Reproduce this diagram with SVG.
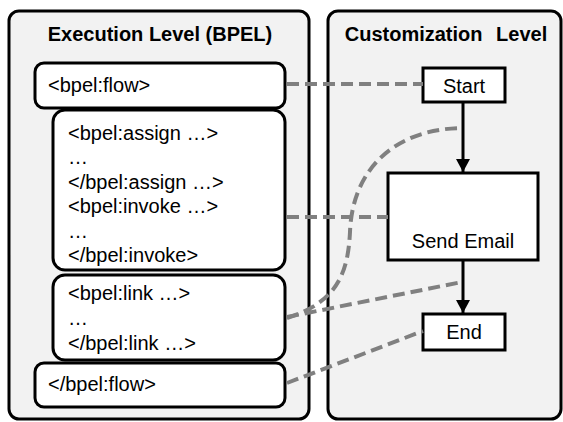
<svg xmlns="http://www.w3.org/2000/svg" width="563" height="422" viewBox="0 0 563 422">
<defs>
<style>
.panel{fill:#f2f2f2;stroke:#000;stroke-width:3}
.box{fill:#fff;stroke:#000;stroke-width:3}
.title{font-family:"Liberation Sans",Arial,sans-serif;font-weight:bold;font-size:20px;fill:#000}
.t{font-family:"Liberation Sans",Arial,sans-serif;font-size:20px;fill:#000}
.dash{fill:none;stroke:#808080;stroke-width:4;stroke-dasharray:12 6}
.flow{fill:none;stroke:#000;stroke-width:3}
</style>
<marker id="ah" markerWidth="14" markerHeight="14" refX="13" refY="7" orient="auto" markerUnits="userSpaceOnUse">
<path d="M0,0 L13,7 L0,14 Z" fill="#000"/>
</marker>
</defs>
<rect width="563" height="422" fill="#fff"/>
<g id="panel-execution">
<rect class="panel" x="9" y="11" width="300" height="408" rx="10"/>
<text class="title" x="160" y="41" text-anchor="middle">Execution Level (BPEL)</text>
</g>
<g id="panel-customization">
<rect class="panel" x="328" y="11" width="233" height="408" rx="10"/>
<text class="title" x="446" y="41" text-anchor="middle" word-spacing="8">Customization Level</text>
</g>
<g id="bpel-flow-open">
<rect class="box" x="35" y="63" width="250" height="45" rx="9"/>
<text class="t" x="48" y="92">&lt;bpel:flow&gt;</text>
</g>
<g id="bpel-assign-invoke">
<rect class="box" x="53" y="110" width="232" height="160" rx="12"/>
<text class="t" x="68" y="140">&lt;bpel:assign …&gt;</text>
<text class="t" x="68" y="164">…</text>
<text class="t" x="68" y="189">&lt;/bpel:assign …&gt;</text>
<text class="t" x="68" y="213">&lt;bpel:invoke …&gt;</text>
<text class="t" x="68" y="238">…</text>
<text class="t" x="68" y="262">&lt;/bpel:invoke&gt;</text>
</g>
<g id="bpel-link">
<rect class="box" x="53" y="275" width="232" height="85" rx="12"/>
<text class="t" x="68" y="300">&lt;bpel:link …&gt;</text>
<text class="t" x="68" y="325">…</text>
<text class="t" x="68" y="350">&lt;/bpel:link …&gt;</text>
</g>
<g id="bpel-flow-close">
<rect class="box" x="35" y="363" width="250" height="44" rx="9"/>
<text class="t" x="48" y="391">&lt;/bpel:flow&gt;</text>
</g>
<g id="start">
<rect class="box" x="423" y="68" width="82" height="34"/>
<text class="t" x="464" y="93" text-anchor="middle">Start</text>
</g>
<g id="send-email">
<rect class="box" x="388" y="173" width="150" height="87"/>
<text class="t" x="463" y="248" text-anchor="middle">Send Email</text>
</g>
<g id="end">
<rect class="box" x="423" y="314" width="82" height="36"/>
<text class="t" x="464" y="339" text-anchor="middle">End</text>
</g>
<g id="connectors">
<line class="flow" x1="463" y1="102" x2="463" y2="172" marker-end="url(#ah)"/>
<line class="flow" x1="463" y1="260" x2="463" y2="313" marker-end="url(#ah)"/>
<path class="dash" d="M287,84 L423,84"/>
<path class="dash" d="M287,217 L388,217"/>
<path class="dash" d="M287,318 C338,302 348,272 350,232 C352,172 392,129 462,128"/>
<path class="dash" d="M287,317 L462,282"/>
<path class="dash" d="M287,383 L423,331"/>
</g>
</svg>
